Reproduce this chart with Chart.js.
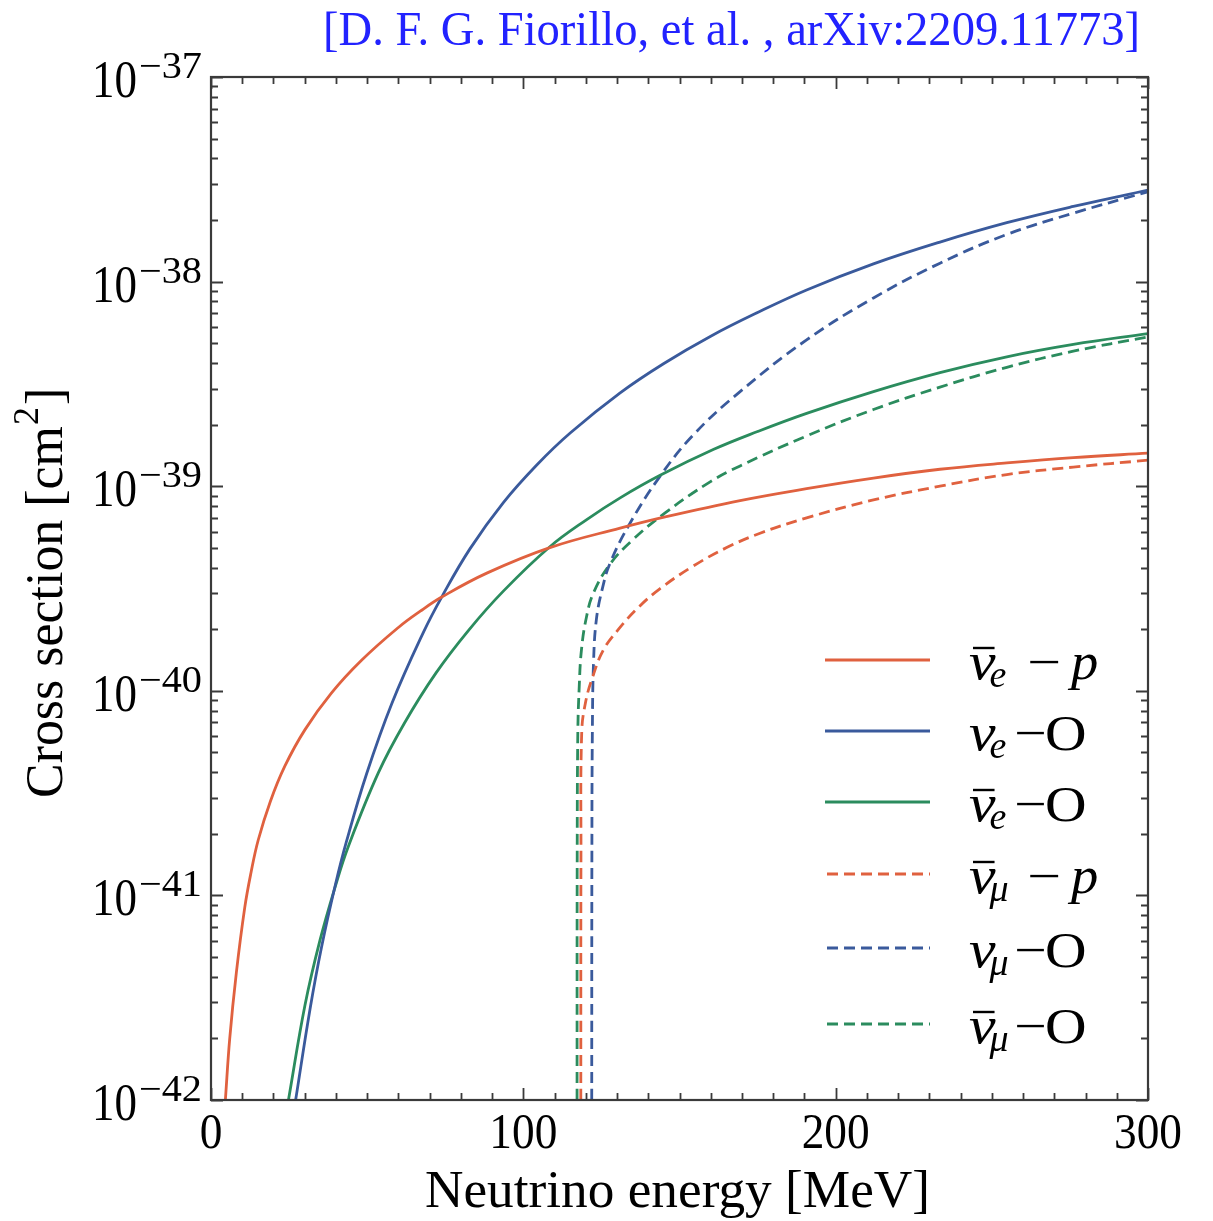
<!DOCTYPE html>
<html><head><meta charset="utf-8">
<script src="https://cdn.jsdelivr.net/npm/chart.js@4/dist/chart.umd.min.js"></script>
<style>html,body{margin:0;padding:0;background:#fff;}#wrap{width:1213px;height:1221px;}</style>
</head><body><div id="wrap"><canvas id="c" width="1213" height="1221"></canvas></div>
<script>
// ---------- data (energy in MeV, cross section in cm^2) ----------
const nueBarP_E   = [4.6, 6.0, 8.1, 10.8, 12.8, 15.1, 19, 23.6, 30.1, 38.6, 48.2, 60, 67, 74, 88.3, 108.5, 131, 145.4, 169.4, 190.7, 212.1, 233.4, 254.8, 276.1, 300];
const nueBarP_sig = [1.0e-42, 2.0e-42, 4.17e-42, 8.71e-42, 1.29e-41, 1.86e-41, 2.88e-41, 4.27e-41, 6.46e-41, 9.77e-41, 1.41e-40, 2.04e-40, 2.45e-40, 2.88e-40, 3.76e-40, 5.01e-40, 6.24e-40, 7.08e-40, 8.51e-40, 9.73e-40, 1.096e-39, 1.21e-39, 1.30e-39, 1.38e-39, 1.45e-39];

const nueO_E   = [27.1, 31.7, 35.4, 39.9, 43.4, 49.8, 57.9, 68, 73.9, 82.9, 93.6, 104.3, 115, 131, 145, 160, 175, 190.7, 212.1, 233.4, 254.8, 276.1, 300];
const nueO_sig = [1.0e-42, 2.78e-42, 5.60e-42, 1.14e-41, 1.84e-41, 3.92e-41, 8.67e-41, 1.93e-40, 2.88e-40, 4.94e-40, 8.32e-40, 1.27e-39, 1.82e-39, 2.86e-39, 3.98e-39, 5.41e-39, 7.06e-39, 9.10e-39, 1.22e-38, 1.56e-38, 1.94e-38, 2.33e-38, 2.80e-38];

const nueBarO_E   = [24.8, 30.1, 34.9, 39.9, 44, 53.6, 62, 72, 82.4, 93.6, 108.5, 120.3, 131, 143.8, 160.8, 175, 190.7, 212.1, 233.4, 254.8, 276.1, 300];
const nueBarO_sig = [1.0e-42, 2.91e-42, 6.04e-42, 1.12e-41, 1.74e-41, 3.98e-41, 6.98e-41, 1.22e-40, 1.97e-40, 3.07e-40, 5.06e-40, 6.87e-40, 8.77e-40, 1.13e-39, 1.51e-39, 1.85e-39, 2.27e-39, 2.90e-39, 3.59e-39, 4.29e-39, 4.93e-39, 5.57e-39];

const numuBarP_E   = [118.4, 118.45, 118.7, 120, 122.2, 125.6, 130.5, 137, 143.8, 154.4, 165.1, 175.8, 190.7, 212.1, 233.4, 254.8, 276.1, 300];
const numuBarP_sig = [1.0e-42, 1.58e-41, 6.31e-41, 8.91e-41, 1.17e-40, 1.58e-40, 2.0e-40, 2.57e-40, 3.16e-40, 4.07e-40, 5.01e-40, 5.89e-40, 7.0e-40, 8.57e-40, 1.0e-39, 1.14e-39, 1.24e-39, 1.34e-39];

const numuO_E   = [121.9, 121.95, 122.1, 122.5, 123.4, 125.3, 127.8, 134.2, 143.8, 154.4, 169.4, 190.7, 212.1, 233.4, 254.8, 276.1, 300];
const numuO_sig = [1.0e-42, 1.58e-41, 6.31e-41, 1.41e-40, 2.24e-40, 3.16e-40, 4.22e-40, 6.61e-40, 1.12e-39, 1.78e-39, 2.90e-39, 5.19e-39, 8.32e-39, 1.23e-38, 1.70e-38, 2.16e-38, 2.75e-38];

const numuBarO_E   = [117.2, 117.25, 117.45, 117.9, 118.6, 120.2, 122.5, 127.8, 135.2, 145.4, 159.8, 169.4, 190.7, 212.1, 233.4, 254.8, 276.1, 300];
const numuBarO_sig = [1.0e-42, 1.58e-41, 6.31e-41, 1.05e-40, 1.58e-40, 2.29e-40, 3.02e-40, 4.17e-40, 5.50e-40, 7.41e-40, 1.05e-39, 1.256e-39, 1.76e-39, 2.37e-39, 3.05e-39, 3.81e-39, 4.57e-39, 5.37e-39];

// legend label parts: bar over nu, subscript flavour, target
const labelBar    = [true, false, true, true, false, true];
const labelSub    = ['e', 'e', 'e', 'μ', 'μ', 'μ'];
const labelTarget = ['p', 'O', 'O', 'p', 'O', 'O'];

const xTickLabels = ['0', '100', '200', '300'];
const xTickValues = [0, 100, 200, 300];
const yTickExps   = [-37, -38, -39, -40, -41, -42];

const titleText  = '[D. F. G. Fiorillo, et al. , arXiv:2209.11773]';
const xAxisTitle = 'Neutrino energy [MeV]';
const yAxisTitleMain = 'Cross section [cm';
const yAxisTitleSup  = '2';
const yAxisTitleEnd  = ']';

// ---------- styles ----------
const RED = '#e0613f', BLUE = '#3a5a9c', GREEN = '#2b8c5e';
const seriesE   = [nueBarP_E, nueO_E, nueBarO_E, numuBarP_E, numuO_E, numuBarO_E];
const seriesSig = [nueBarP_sig, nueO_sig, nueBarO_sig, numuBarP_sig, numuO_sig, numuBarO_sig];
const colors = [RED, BLUE, GREEN, RED, BLUE, GREEN];
const dashed = [false, false, false, true, true, true];
const DASH = [11, 6];
const SERIF = '"Liberation Serif", "DejaVu Serif", serif';

const datasets = seriesE.map((E, k) => ({
  data: E.map((e, i) => ({ x: e, y: seriesSig[k][i] })),
  borderColor: colors[k],
  borderWidth: 2.8,
  borderDash: dashed[k] ? DASH : [],
  pointRadius: 0,
  fill: false,
  tension: 0.4
}));

function drawScaled(ctx, txt, x, y, font, sx, align) {
  ctx.save();
  ctx.font = font;
  const w = ctx.measureText(txt).width * sx;
  let x0 = x;
  if (align === 'center') x0 = x - w / 2;
  else if (align === 'right') x0 = x - w;
  ctx.translate(x0, y);
  ctx.scale(sx, 1);
  ctx.textAlign = 'left';
  ctx.textBaseline = 'alphabetic';
  ctx.fillText(txt, 0, 0);
  ctx.restore();
  return w;
}
function fitScale(ctx, txt, font, target) {
  ctx.save(); ctx.font = font; const w = ctx.measureText(txt).width; ctx.restore();
  return target / w;
}

const decor = {
  id: 'decor',
  afterDatasetsDraw(chart) {
    const ctx = chart.ctx;
    const xs = chart.scales.x, ys = chart.scales.y;
    const a = chart.chartArea;
    ctx.save();
    // frame
    ctx.strokeStyle = '#3a3a3a';
    ctx.lineWidth = 2.2;
    ctx.strokeRect(a.left, a.top, a.right - a.left, a.bottom - a.top);
    // x ticks
    ctx.lineWidth = 1.8;
    ctx.beginPath();
    for (let v = 0; v <= 300; v += 10) {
      const px = Math.round(xs.getPixelForValue(v)) + 0.5;
      const len = (v % 100 === 0) ? 12 : 7;
      ctx.moveTo(px, a.bottom); ctx.lineTo(px, a.bottom - len);
      ctx.moveTo(px, a.top); ctx.lineTo(px, a.top + len);
    }
    // y ticks
    for (let d = -42; d <= -37; d++) {
      for (let m = 1; m <= 9; m++) {
        if (d === -37 && m > 1) break;
        const val = m * Math.pow(10, d);
        const py = Math.round(ys.getPixelForValue(val)) + 0.5;
        const len = (m === 1) ? 12 : 7;
        ctx.moveTo(a.left, py); ctx.lineTo(a.left + len, py);
        ctx.moveTo(a.right, py); ctx.lineTo(a.right - len, py);
      }
    }
    ctx.stroke();

    ctx.fillStyle = '#000';
    // x tick labels
    const xf = `50px ${SERIF}`;
    const xsx = fitScale(ctx, '100', xf, 68);
    xTickValues.forEach((v, i) => {
      drawScaled(ctx, xTickLabels[i], xs.getPixelForValue(v), 1148, xf, xsx, 'center');
    });
    // y tick labels 10^{-n}
    const bf = `52px ${SERIF}`, sf = `37px ${SERIF}`;
    const bsx = fitScale(ctx, '10', bf, 45);
    yTickExps.forEach(e => {
      const py = ys.getPixelForValue(Math.pow(10, e));
      drawScaled(ctx, '10', 137, py + 20, bf, bsx, 'right');
      const sup = '\u2212' + Math.abs(e);
      const ssx = fitScale(ctx, sup, sf, 63);
      drawScaled(ctx, sup, 139, py + 1, sf, ssx, 'left');
    });
    // x axis title
    const tf = `52px ${SERIF}`;
    drawScaled(ctx, xAxisTitle, 425, 1207, tf, fitScale(ctx, xAxisTitle, tf, 505), 'left');
    // y axis title (rotated)
    ctx.save();
    ctx.translate(62, 798);
    ctx.rotate(-Math.PI / 2);
    const ysx = fitScale(ctx, yAxisTitleMain, tf, 372);
    let w = drawScaled(ctx, yAxisTitleMain, 0, 0, tf, ysx, 'left');
    w += drawScaled(ctx, yAxisTitleSup, w + 1, -24, `36px ${SERIF}`, ysx, 'left');
    drawScaled(ctx, yAxisTitleEnd, w + 3, 0, tf, ysx, 'left');
    ctx.restore();
    // citation
    ctx.fillStyle = '#2222ff';
    const cf = `48px ${SERIF}`;
    drawScaled(ctx, titleText, 1140, 45, cf, fitScale(ctx, titleText, cf, 817), 'right');

    // legend
    const legY = [660, 731, 802, 874, 948, 1024];
    for (let k = 0; k < 6; k++) {
      const ly = legY[k];
      ctx.strokeStyle = colors[k];
      ctx.lineWidth = 2.8;
      ctx.setLineDash(dashed[k] ? DASH : []);
      ctx.beginPath();
      ctx.moveTo(dashed[k] ? 827 : 825, ly); ctx.lineTo(930, ly);
      ctx.stroke();
      ctx.setLineDash([]);
      ctx.fillStyle = '#000';
      const base = ly + 19;
      const nuW = drawScaled(ctx, 'ν', 969, base, `italic 52px ${SERIF}`, 1.15, 'left');
      if (labelBar[k]) {
        ctx.strokeStyle = '#000';
        ctx.lineWidth = 2.4;
        ctx.beginPath();
        ctx.moveTo(973, ly - 12); ctx.lineTo(973 + nuW - 5, ly - 12);
        ctx.stroke();
      }
      drawScaled(ctx, labelSub[k], 969 + nuW - 6, base + 8, `italic 38px ${SERIF}`, 1.0, 'left');
      if (labelTarget[k] === 'p') {
        drawScaled(ctx, '\u2212', 1027, base - 1, `48px ${SERIF}`, 1.25, 'left');
        drawScaled(ctx, 'p', 1071, base, `italic 52px ${SERIF}`, 1.05, 'left');
      } else {
        drawScaled(ctx, '\u2212', 1014, base - 1, `48px ${SERIF}`, 1.2, 'left');
        drawScaled(ctx, 'O', 1045, base, `50px ${SERIF}`, 1.15, 'left');
      }
    }
    ctx.restore();
  }
};

new Chart(document.getElementById('c').getContext('2d'), {
  type: 'line',
  data: { datasets },
  options: {
    responsive: false,
    animation: false,
    devicePixelRatio: 1,
    layout: { padding: { left: 211, right: 65, top: 77, bottom: 121 } },
    scales: {
      x: { type: 'linear', min: 0, max: 300, display: false },
      y: { type: 'logarithmic', min: 1e-42, max: 1e-37, display: false }
    },
    plugins: { legend: { display: false }, tooltip: { enabled: false } }
  },
  plugins: [decor]
});
</script></body></html>
